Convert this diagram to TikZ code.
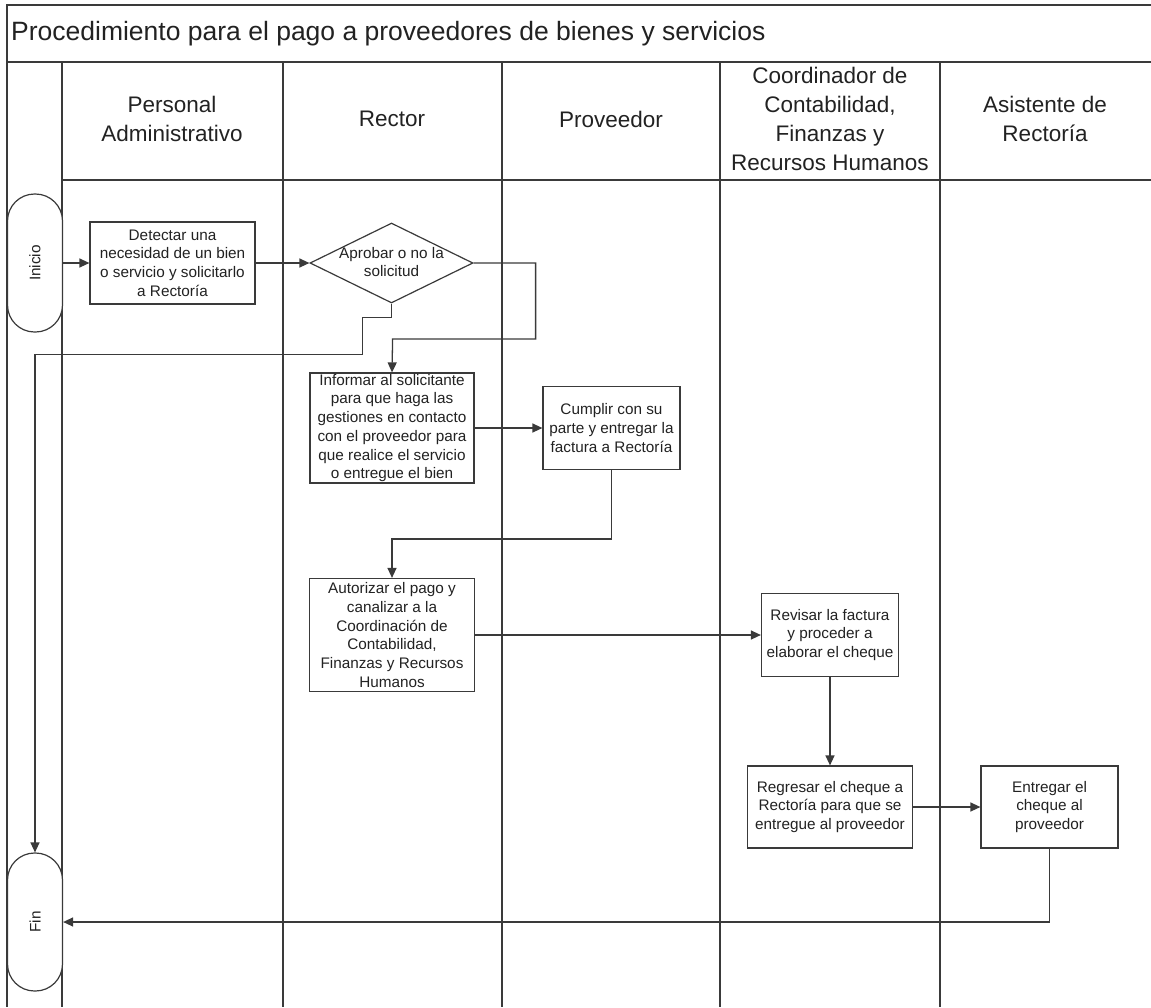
\documentclass[tikz,border=0pt]{standalone}
\usepackage{fontspec}
\setmainfont{Liberation Sans}
\usepackage{graphicx}
\definecolor{ink}{RGB}{34,34,34}
\definecolor{rule}{RGB}{58,58,58}
\usetikzlibrary{arrows.meta,shapes.geometric}
\tikzset{
  lane/.style={draw=rule, line width=1.7pt},
  head/.style={font=\fontsize{22.5}{29}\selectfont, align=center, text=ink, inner sep=0pt},
  task/.style={draw=rule, line width=1.2pt, fill=white, inner sep=0pt, align=center,
               font=\fontsize{15.3}{18.7}\selectfont, text=ink},
  term/.style={draw=rule, line width=1.2pt, fill=white, rounded corners=27pt,
               minimum width=55pt, minimum height=138pt, inner sep=0pt,
               font=\fontsize{15.3}{18.7}\selectfont, text=ink},
  check/.style={diamond, draw=rule, line width=1.2pt, fill=white, inner sep=0pt,
               minimum width=163pt, minimum height=80pt},
  label/.style={align=center, inner sep=0pt, font=\fontsize{15.3}{18.7}\selectfont, text=ink},
  flow/.style={-{Triangle[length=10pt,width=9pt]}, rule, line width=1.3pt},
}

\begin{document}
\begin{tikzpicture}[x=1pt,y=-1pt]
  \useasboundingbox (0,0) rectangle (1151,1007);

  % frame and lanes
  \draw[lane] (1151,5) -- (7,5) -- (7,1007);
  \draw[lane] (7,62) -- (1151,62);
  \draw[lane] (62,180) -- (1151,180);
  \foreach \x in {62,283,502,720,940}
    \draw[lane] (\x,62) -- (\x,1007);

  \node[font=\fontsize{26.5}{32}\selectfont, text=ink, anchor=west, inner sep=0pt] (title) at (11,34)
    {Procedimiento para el pago a proveedores de bienes y servicios};

  \foreach \x/\txt in {172/{Personal\\Administrativo}, 392/{Rector}, 611/{Proveedor},
                       830/{Coordinador de\\Contabilidad,\\Finanzas y\\Recursos Humanos},
                       1045/{Asistente de\\Rectoría}}
    \node[head] (hd\x) at (\x,119) {\txt};

  % steps
  \node[term] (inicio) at (35,263) {\rotatebox{90}{Inicio}};
  \node[task, minimum width=165pt, minimum height=82pt] (detect) at (172.5,263)
    {Detectar una\\necesidad de un bien\\o servicio y solicitarlo\\a Rectoría};
  \node[check] (approve) at (391.5,263) {};
  \node[label] (approvetxt) at (391.5,262) {Aprobar o no la\\solicitud};
  \node[task, minimum width=164pt, minimum height=110pt] (inform) at (392,428)
    {Informar al solicitante\\para que haga las\\gestiones en contacto\\con el proveedor para\\que realice el servicio\\o entregue el bien};
  \node[task, minimum width=137pt, minimum height=83pt] (fulfil) at (611.5,428)
    {Cumplir con su\\parte y entregar la\\factura a Rectoría};
  \node[task, minimum width=165pt, minimum height=113pt] (authorize) at (392,635)
    {Autorizar el pago y\\canalizar a la\\Coordinación de\\Contabilidad,\\Finanzas y Recursos\\Humanos};
  \node[task, minimum width=137pt, minimum height=83pt] (review) at (830,635)
    {Revisar la factura\\y proceder a\\elaborar el cheque};
  \node[task, minimum width=165pt, minimum height=82pt] (cheque) at (830,807)
    {Regresar el cheque a\\Rectoría para que se\\entregue al proveedor};
  \node[task, minimum width=137pt, minimum height=82pt] (deliver) at (1049.5,807)
    {Entregar el\\cheque al\\proveedor};
  \node[term] (fin) at (35,922) {\rotatebox{90}{Fin}};

  % connectors
  \draw[flow] (inicio.east) -- (detect.west);
  \draw[flow] (detect.east) -- (approve.west);
  \draw[flow] (approve.south) -- ++(0,14) -| ++(-29,37) -| (fin.north);
  \draw[flow] (approve.east) -- ++(62,0) |- ++(-143,76) -- (inform.north);
  \draw[flow] (inform.east) -- (fulfil.west);
  \draw[flow] (fulfil.south) -- ++(0,69) -| (authorize.north);
  \draw[flow] (authorize.east) -- (review.west);
  \draw[flow] (review.south) -- (cheque.north);
  \draw[flow] (cheque.east) -- (deliver.west);
  \draw[flow] (deliver.south) |- (fin.east);
\end{tikzpicture}
\end{document}
